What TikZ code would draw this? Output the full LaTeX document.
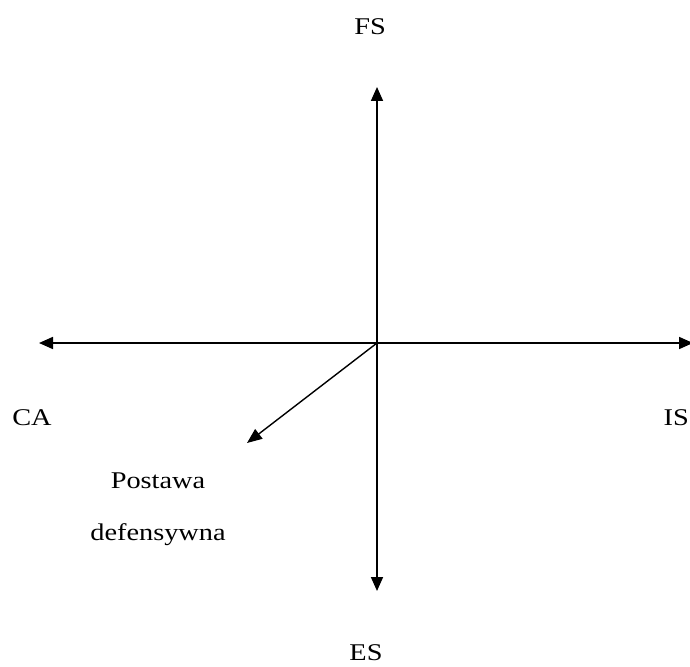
\documentclass[tikz,border=0pt]{standalone}
\usepackage{fontspec}
\setmainfont{Liberation Serif}[FakeStretch=1.18]
\usetikzlibrary{arrows.meta}

\begin{document}
\begin{tikzpicture}[
        x=1pt, y=-1pt,
        % Stili delle frecce e delle etichette
        asse/.style={line width=1.7pt, -{Triangle[length=14pt,width=12pt]}},
        obliqua/.style={line width=1.4pt, -{Triangle[length=15pt,width=12pt]}},
        etichetta/.style={font=\fontsize{24}{30}\selectfont, inner sep=0pt, align=center}
    ]

    % Area del disegno
    \useasboundingbox (0,0) rectangle (690,666);

    % ==============================
    % Centro e punte degli assi
    % ==============================
    \coordinate (centro) at (377,343);
    \coordinate (su) at (377,87);
    \coordinate (giu) at (377,591);
    \coordinate (sx) at (39,343);
    \coordinate (dx) at (693,343);
    \coordinate (difesa) at (247,443);

    % Assi
    \draw[asse] (centro) -- (su);
    \draw[asse] (centro) -- (giu);
    \draw[asse] (centro) -- (sx);
    \draw[asse] (centro) -- (dx);
    \draw[obliqua] (centro) -- (difesa);

    % ==============================
    % Etichette
    % ==============================
    \node[etichetta] (fs) at (370,27) {FS};
    \node[etichetta] (es) at (366,653) {ES};
    \node[etichetta] (ca) at (32,418) {CA};
    \node[etichetta, anchor=east] (is) at (689,418) {IS};
    \node[etichetta] (postawa) at (158,509) {Postawa\\[22pt]defensywna};

\end{tikzpicture}
\end{document}
